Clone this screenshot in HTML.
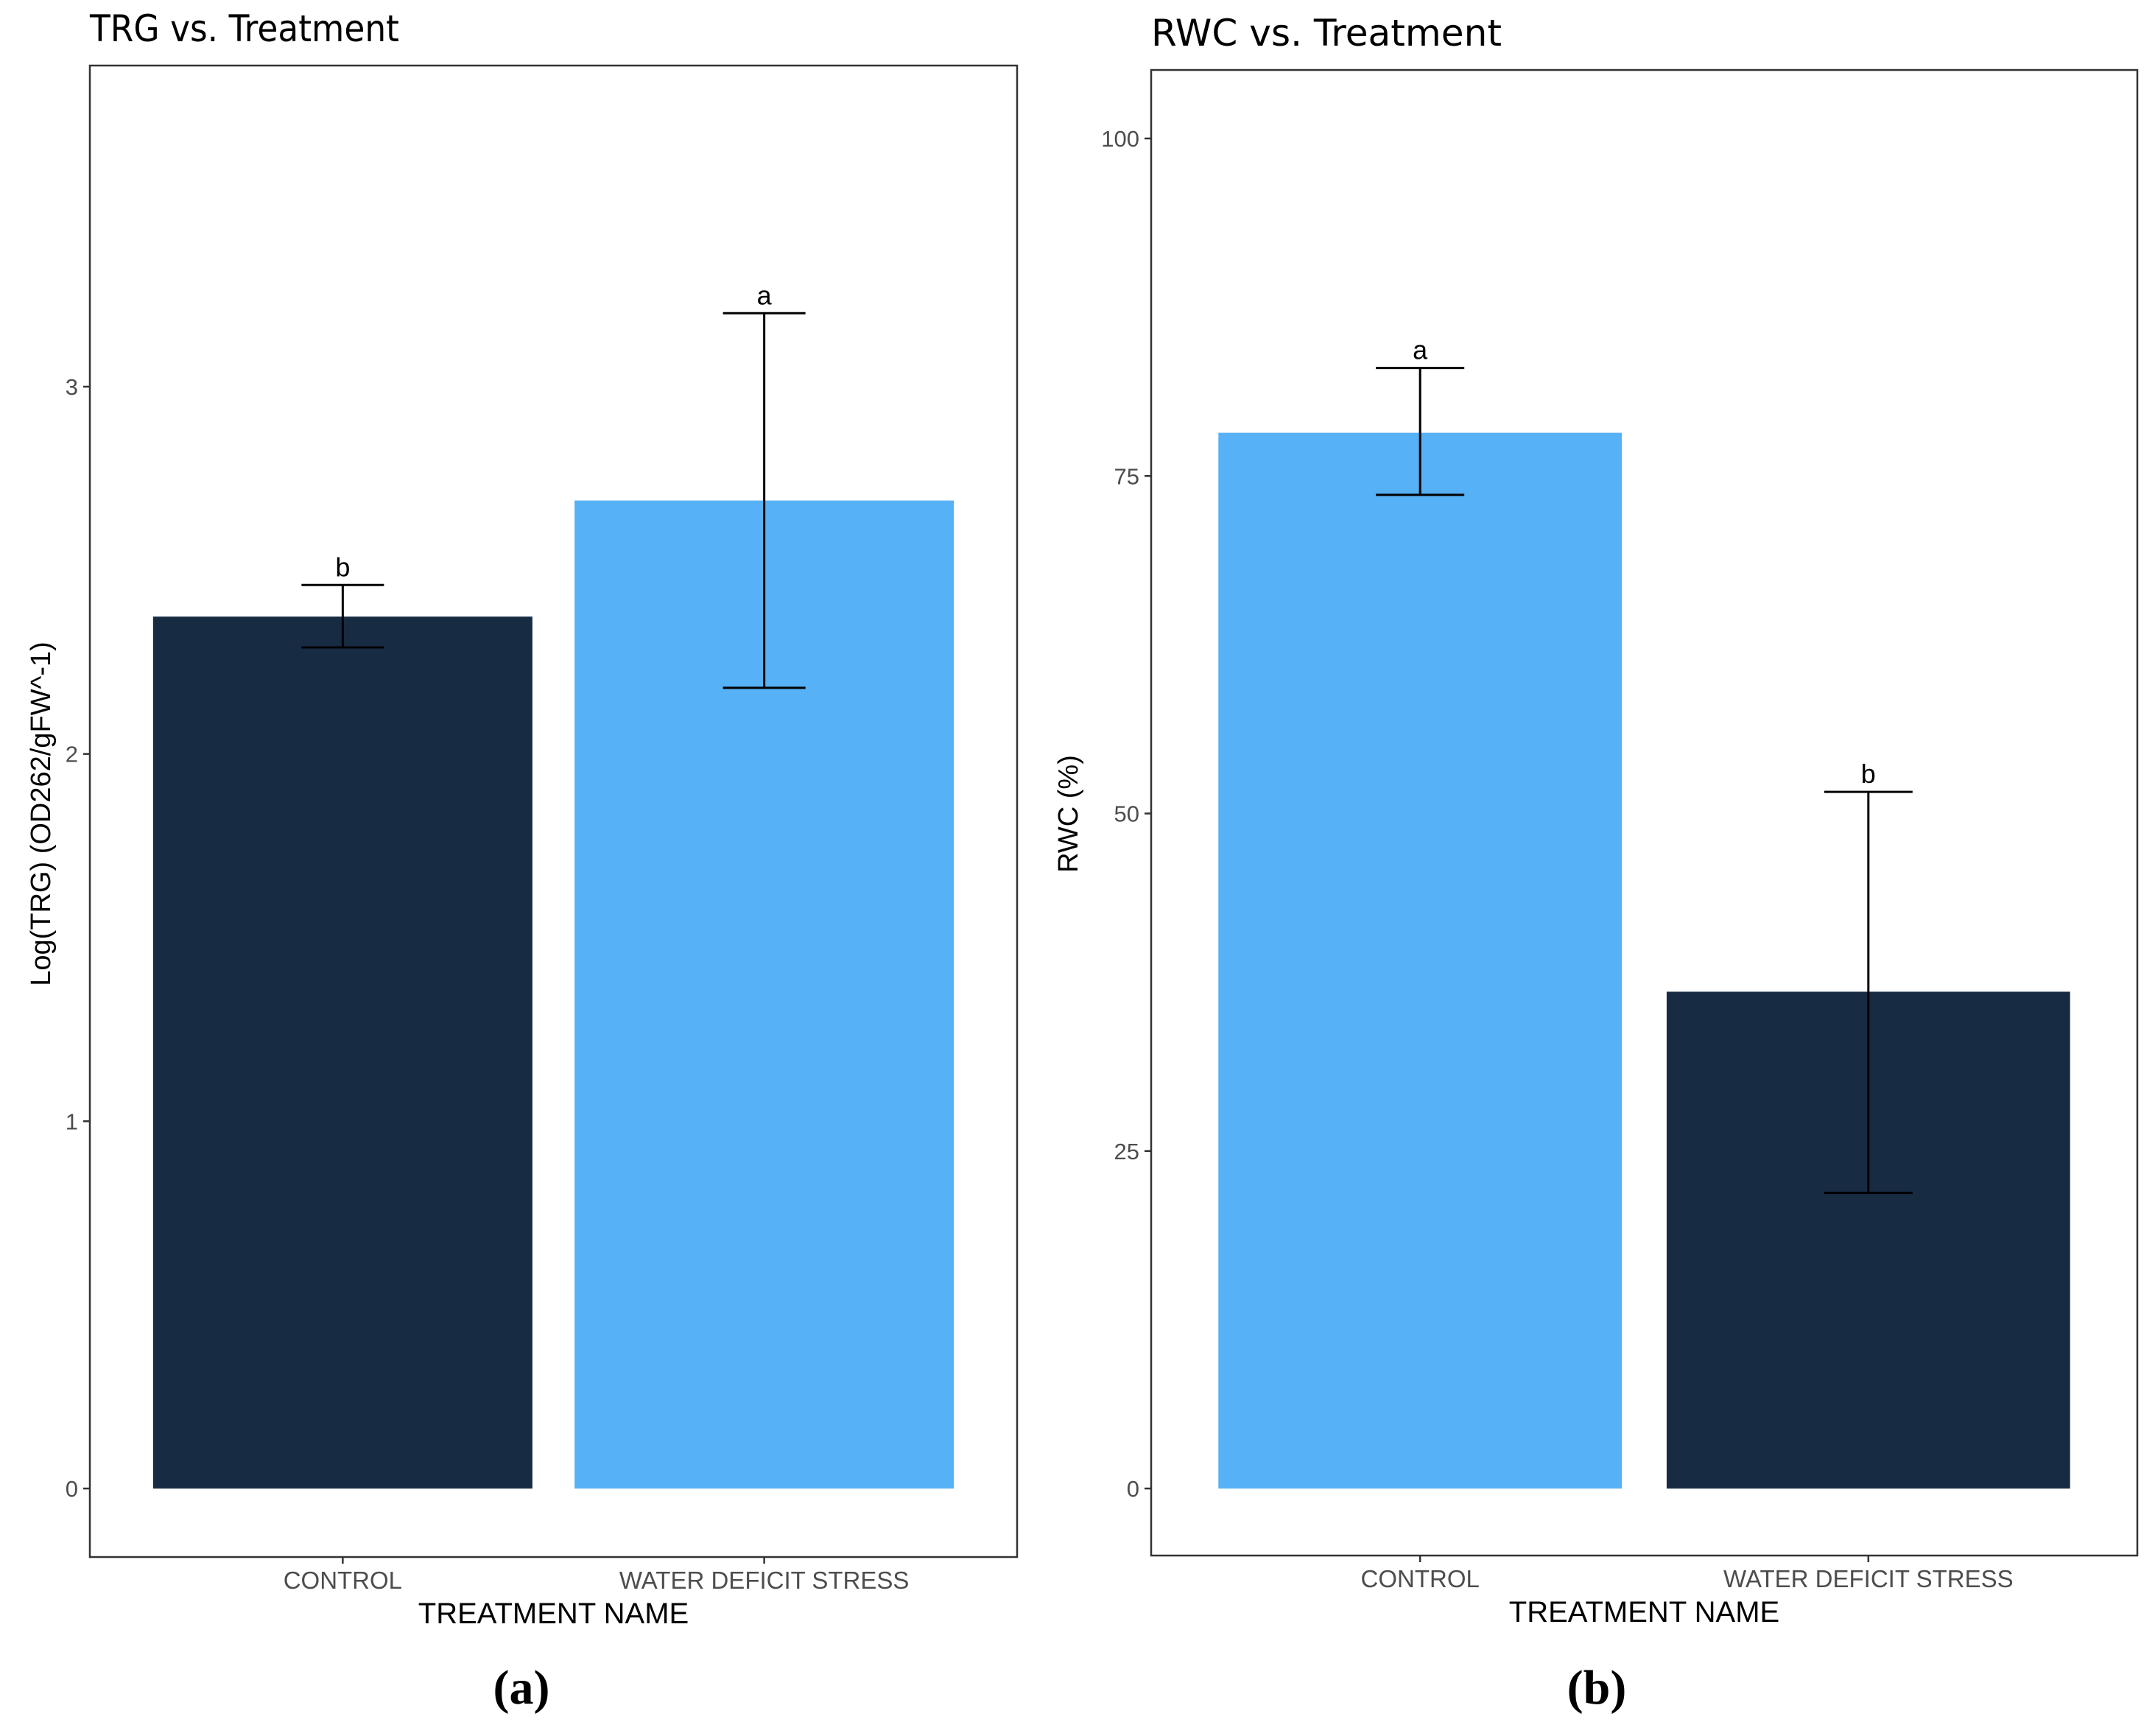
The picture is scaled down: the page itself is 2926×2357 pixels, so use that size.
<!DOCTYPE html>
<html><head><meta charset="utf-8"><style>
body{margin:0;background:#fff}
svg{display:block;font-family:"Liberation Sans",Arial,sans-serif}
</style></head><body>
<svg id="fig" width="2926" height="2357" viewBox="0 0 2926 2357" xmlns="http://www.w3.org/2000/svg"></svg>
<script>
const categories = ["CONTROL", "WATER DEFICIT STRESS"];
const trgValues = [2.374, 2.69];
const trgLow = [2.29, 2.18];
const trgHigh = [2.46, 3.2];
const trgLetters = ["b", "a"];
const trgTicks = [0, 1, 2, 3];
const rwcValues = [78.2, 36.8];
const rwcLow = [73.6, 21.9];
const rwcHigh = [83, 51.6];
const rwcLetters = ["a", "b"];
const rwcTicks = [0, 25, 50, 75, 100];

const NS = "http://www.w3.org/2000/svg";
const svg = document.getElementById("fig");
function mk(tag, attrs, parent, text) {
  const e = document.createElementNS(NS, tag);
  for (const k in attrs) e.setAttribute(k, attrs[k]);
  if (text !== undefined) e.textContent = text;
  (parent || svg).appendChild(e);
  return e;
}
function panel(o) {
  const g = mk("g", {});
  
  
  const yS = v => o.y0 + (v - o.vmin) * (o.y1 - o.y0) / (o.vmax - o.vmin);
  const title = mk("text", {x: o.bx0, y: o.titleY, "font-size": 50, fill: "#000", "font-family": "DejaVu Sans, Liberation Sans, sans-serif", "textLength": o.titleW, "lengthAdjust": "spacingAndGlyphs"}, g, o.title);
  
  
  const box = mk("rect", {x: o.bx0, y: o.by0, width: o.bx1 - o.bx0, height: o.by1 - o.by0, fill: "none", stroke: "#333", "stroke-width": 2.5}, g);
  
  
  o.ticks.forEach(t => {
    const y = yS(t);
    mk("line", {x1: o.bx0 - 9, x2: o.bx0, y1: y, y2: y, stroke: "#333", "stroke-width": 2.5}, g);
    const tl = mk("text", {x: o.bx0 - 16, y: y + 11, "font-size": 31, fill: "#4d4d4d", "text-anchor": "end"}, g, String(t));
    
    
  });
  const n = categories.length;
  const step = (o.bx1 - o.bx0) / (n + 0.2);
  const bw = step * 0.9;
  categories.forEach((c, i) => {
    const cx = o.bx0 + step * (0.6 + i);
    const top = yS(o.values[i]);
    const bar = mk("rect", {x: cx - bw / 2, y: top, width: bw, height: yS(0) - top, fill: o.colors[i]}, g);
    
    
    const yl = yS(o.low[i]), yh = yS(o.high[i]);
    const eb = mk("g", {stroke: "#000", "stroke-width": 3}, g);
    
    
    mk("line", {x1: cx, x2: cx, y1: yl, y2: yh}, eb);
    mk("line", {x1: cx - o.cap, x2: cx + o.cap, y1: yl, y2: yl}, eb);
    mk("line", {x1: cx - o.cap, x2: cx + o.cap, y1: yh, y2: yh}, eb);
    const lt = mk("text", {x: cx, y: yh - 12, "font-size": 36, "text-anchor": "middle", fill: "#000"}, g, o.letters[i]);
    
    
    mk("line", {x1: cx, x2: cx, y1: o.by1, y2: o.by1 + 9, stroke: "#333", "stroke-width": 2.5}, g);
    const xl = mk("text", {x: cx, y: o.by1 + 43, "font-size": 33, fill: "#4d4d4d", "text-anchor": "middle"}, g, c);
    
    
  });
  const xt = mk("text", {x: (o.bx0 + o.bx1) / 2, y: o.by1 + 90, "font-size": 40, "text-anchor": "middle", fill: "#000"}, g, "TREATMENT NAME");
  
  
  const yt = mk("text", {x: 0, y: 0, "font-size": 38, "text-anchor": "middle", fill: "#000", transform: "translate(" + o.ytX + "," + o.ytY + ") rotate(-90)"}, g, o.ytitle);
  
  
  const lab = mk("text", {x: o.labX, y: 2313, "font-size": 66, "font-weight": "bold", "font-family": "Liberation Serif, serif", "text-anchor": "middle", fill: "#000"}, g, o.label);
  
  
}
panel({id: "trg", title: "TRG vs. Treatment", titleW: 420, titleY: 56, bx0: 122, bx1: 1381, by0: 89, by1: 2114,
  vmin: 0, vmax: 3, y0: 2021, y1: 525, ticks: trgTicks, values: trgValues, low: trgLow, high: trgHigh,
  letters: trgLetters, colors: ["#172b43", "#56b1f6"], cap: 56, ytitle: "Log(TRG) (OD262/gFW^-1)",
  ytX: 68, ytY: 1105, labX: 708, label: "(a)"});
panel({id: "rwc", title: "RWC vs. Treatment", titleW: 476, titleY: 62, bx0: 1563, bx1: 2902, by0: 95, by1: 2112,
  vmin: 0, vmax: 100, y0: 2021, y1: 188, ticks: rwcTicks, values: rwcValues, low: rwcLow, high: rwcHigh,
  letters: rwcLetters, colors: ["#56b1f6", "#172b43"], cap: 60, ytitle: "RWC (%)",
  ytX: 1463, ytY: 1105, labX: 2168, label: "(b)"});
</script>
</body></html>
